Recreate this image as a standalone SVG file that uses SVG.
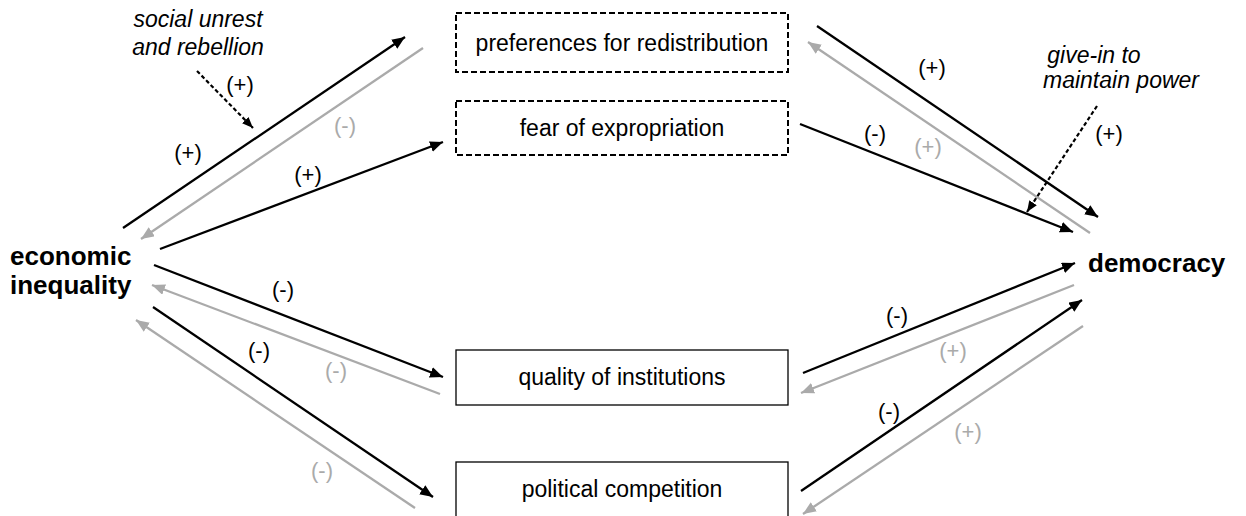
<svg xmlns="http://www.w3.org/2000/svg" width="1246" height="516" viewBox="0 0 1246 516">
<defs>
<style>
text{font-family:"Liberation Sans",Arial,sans-serif;}
.box{fill:#fff;stroke:#000;stroke-width:1.3;}
.dbox{fill:#fff;stroke:#000;stroke-width:2;stroke-dasharray:6 3;}
.bt{font-size:23px;text-anchor:middle;fill:#000;}
.main{font-size:26px;font-weight:bold;fill:#000;}
.it{font-size:23px;font-style:italic;fill:#000;text-anchor:middle;}
.lb{font-size:22px;text-anchor:middle;fill:#000;}
.lg{font-size:22px;text-anchor:middle;fill:#aaa;}
.k{stroke:#000;stroke-width:2.3;fill:none;marker-end:url(#ak);}
.g{stroke:#aaa;stroke-width:2.3;fill:none;marker-end:url(#ag);}
.d{stroke:#000;stroke-width:2.2;stroke-dasharray:4 2.5;fill:none;marker-end:url(#ad);}
</style>
<marker id="ak" markerUnits="userSpaceOnUse" markerWidth="14" markerHeight="12" refX="13" refY="5.5" orient="auto"><path d="M0,0 L13,5.5 L0,11 z" fill="#000"/></marker>
<marker id="ag" markerUnits="userSpaceOnUse" markerWidth="14" markerHeight="12" refX="13" refY="5.5" orient="auto"><path d="M0,0 L13,5.5 L0,11 z" fill="#aaa"/></marker>
<marker id="ad" markerUnits="userSpaceOnUse" markerWidth="12" markerHeight="10" refX="11" refY="4.5" orient="auto"><path d="M0,0 L11,4.5 L0,9 z" fill="#000"/></marker>
</defs>
<rect width="1246" height="516" fill="#fff"/>
<g id="connectors">
<line class="k" x1="123" y1="228" x2="405" y2="37"/>
<line class="g" x1="423" y1="48" x2="141" y2="239"/>
<line class="k" x1="160" y1="249" x2="443" y2="142"/>
<line class="d" x1="197" y1="71" x2="253" y2="128"/>
<line class="k" x1="817" y1="26" x2="1098" y2="217"/>
<line class="g" x1="1090" y1="233" x2="808" y2="42"/>
<line class="k" x1="800" y1="124" x2="1073" y2="232"/>
<line class="d" x1="1097" y1="106" x2="1027" y2="212"/>
<line class="k" x1="154" y1="265" x2="443" y2="377"/>
<line class="g" x1="440" y1="394" x2="152" y2="285"/>
<line class="k" x1="153" y1="307" x2="433" y2="497"/>
<line class="g" x1="415" y1="508" x2="136" y2="320"/>
<line class="k" x1="803" y1="373" x2="1075" y2="263"/>
<line class="g" x1="1074" y1="285" x2="801" y2="393"/>
<line class="k" x1="801" y1="491" x2="1082" y2="300"/>
<line class="g" x1="1083" y1="326" x2="803" y2="514"/>
</g>
<g id="labels">
<text class="lb" x="240" y="92">(+)</text>
<text class="lg" x="345" y="133">(-)</text>
<text class="lb" x="188" y="160">(+)</text>
<text class="lb" x="308" y="182">(+)</text>
<text class="lb" x="932" y="75">(+)</text>
<text class="lb" x="875" y="141">(-)</text>
<text class="lg" x="928" y="154">(+)</text>
<text class="lb" x="1109" y="141">(+)</text>
<text class="lb" x="283" y="297">(-)</text>
<text class="lb" x="259" y="358">(-)</text>
<text class="lg" x="336" y="378">(-)</text>
<text class="lg" x="322" y="478">(-)</text>
<text class="lb" x="897" y="323">(-)</text>
<text class="lg" x="953" y="358">(+)</text>
<text class="lb" x="889" y="419">(-)</text>
<text class="lg" x="968" y="439">(+)</text>
<text class="it" x="198" y="27">social unrest</text>
<text class="it" x="198" y="55">and rebellion</text>
<text class="it" x="1094" y="63">give-in to</text>
<text class="it" x="1121" y="88">maintain power</text>
</g>
<g id="inequality">
<text class="main" x="10" y="265">economic</text>
<text class="main" x="10" y="294">inequality</text>
</g>
<g id="democracy">
<text class="main" x="1088" y="272">democracy</text>
</g>
<g id="preferences">
<rect class="dbox" x="456" y="13" width="332" height="59"/>
<text class="bt" x="622" y="51">preferences for redistribution</text>
</g>
<g id="fear">
<rect class="dbox" x="456" y="101" width="332" height="54"/>
<text class="bt" x="622" y="136">fear of expropriation</text>
</g>
<g id="quality">
<rect class="box" x="456" y="350" width="332" height="55"/>
<text class="bt" x="622" y="385">quality of institutions</text>
</g>
<g id="competition">
<rect class="box" x="456" y="462" width="332" height="70"/>
<text class="bt" x="622" y="497">political competition</text>
</g>
</svg>
